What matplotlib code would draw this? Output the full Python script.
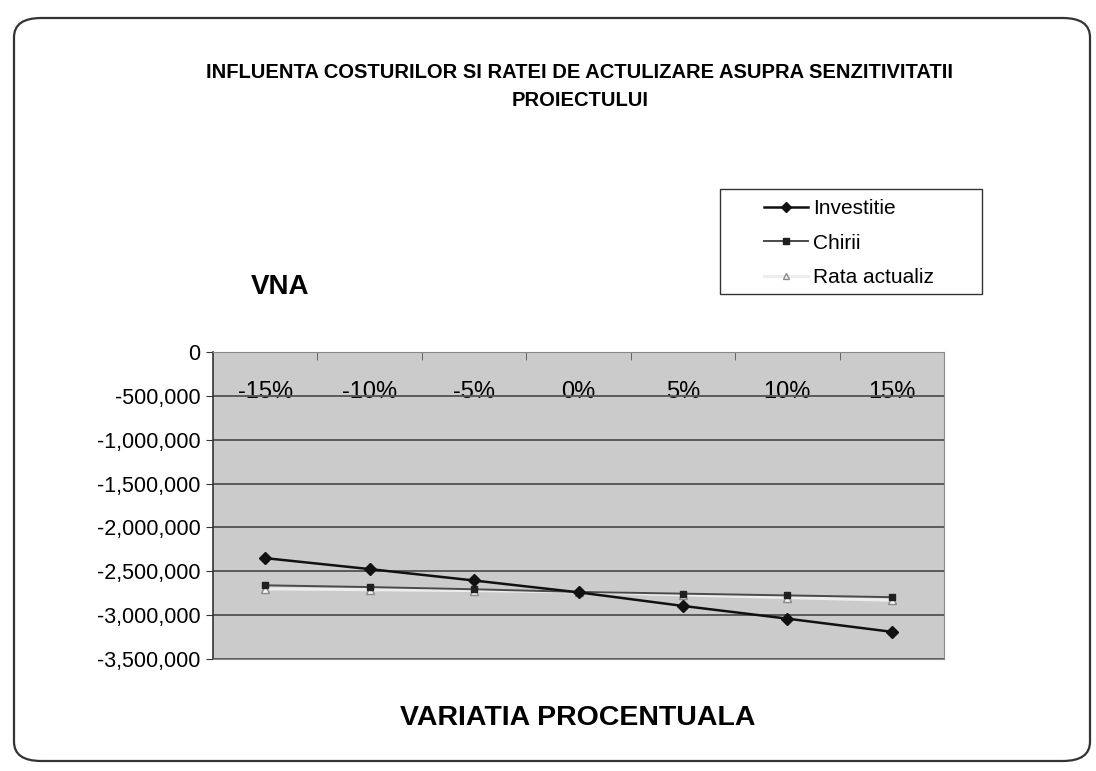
"""
Sensitivity chart: VNA vs percentage variation (Investitie / Chirii / Rata actualiz).
"""
import matplotlib
matplotlib.use('Agg')
import matplotlib.pyplot as plt
from matplotlib.patches import FancyBboxPatch, Rectangle
from matplotlib.ticker import FuncFormatter

plt.rcParams['font.family'] = ['Liberation Sans', 'DejaVu Sans']

# data
categories = ['-15%', '-10%', '-5%', '0%', '5%', '10%', '15%']
investitie = [-2350000, -2475000, -2605000, -2740000, -2895000, -3040000, -3190000]
chirii = [-2660000, -2680000, -2705000, -2735000, -2755000, -2775000, -2795000]
rata_actualiz = [-2700000, -2710000, -2720000, -2735000, -2770000, -2800000, -2830000]
y_ticks = [0, -500000, -1000000, -1500000, -2000000, -2500000, -3000000, -3500000]

W, H = 1096, 771
fig = plt.figure(figsize=(W / 100, H / 100), dpi=100)
fig.patch.set_facecolor('white')

# chart area border (rounded, like the Excel chart frame)
frame = FancyBboxPatch((14 / W, 10 / H), (W - 20) / W, (H - 28) / H,
                       boxstyle='round,pad=0,rounding_size=0.025',
                       transform=fig.transFigure, fill=False,
                       edgecolor='#333333', linewidth=1.6)
fig.patches.append(frame)

ax = fig.add_axes([213 / W, 1 - 659 / H, (944 - 213) / W, (659 - 352) / H])
ax.set_facecolor('#cbcbcb')

x = list(range(len(categories)))
ax.plot(x, rata_actualiz, color='#ededed', linewidth=2.2, marker='^',
        markersize=6, markerfacecolor='#f5f5f5', markeredgecolor='#8a8a8a',
        label='Rata actualiz', zorder=3)
ax.plot(x, chirii, color='#4a4a4a', linewidth=1.4, marker='s',
        markersize=5, markerfacecolor='#202020', markeredgecolor='#202020',
        label='Chirii', zorder=4)
ax.plot(x, investitie, color='#111111', linewidth=1.8, marker='D',
        markersize=6, label='Investitie', zorder=5)

ax.set_xlim(-0.5, len(categories) - 0.5)
ax.set_ylim(-3500000, 0)
ax.set_yticks(y_ticks)
ax.yaxis.set_major_formatter(FuncFormatter(lambda v, p: f'{v:,.0f}'))
ax.tick_params(axis='y', labelsize=15.5, length=5, pad=4, direction='out', color='#333333')
ax.grid(axis='y', color='#5a5a5a', linewidth=1.4)
ax.set_axisbelow(True)

# category axis sits at the top (value 0), labels just below it
ax.xaxis.set_ticks_position('top')
ax.set_xticks(x)
ax.set_xticklabels(categories)
ax.set_xticks([i + 0.5 for i in x[:-1]], minor=True)
ax.tick_params(axis='x', which='major', length=0, labelsize=17, pad=-37,
               labeltop=True, labelbottom=False)
ax.tick_params(axis='x', which='minor', length=6, direction='in', color='#555555')

for side in ['top', 'right', 'bottom']:
    ax.spines[side].set_color('#8a8a8a')
ax.spines['left'].set_color('#333333')
ax.spines['left'].set_linewidth(1.2)

# legend: entries without frame, box drawn separately to match the wide Excel frame
handles, labels = ax.get_legend_handles_labels()
order = [2, 1, 0]
leg = fig.legend([handles[i] for i in order], [labels[i] for i in order],
                 loc='upper left', bbox_to_anchor=(764 / W, 1 - 199 / H),
                 fontsize=15, frameon=False, handlelength=2.1,
                 borderpad=0, labelspacing=0.75, handletextpad=0.25,
                 borderaxespad=0, markerscale=0.8)
fig.patches.append(Rectangle((720 / W, 1 - 294 / H), (982 - 720) / W, (294 - 189) / H,
                             transform=fig.transFigure, fill=False,
                             edgecolor='#333333', linewidth=1.0))

fig.text(580 / W, 1 - 86 / H,
         'INFLUENTA COSTURILOR SI RATEI DE ACTULIZARE ASUPRA SENZITIVITATII\nPROIECTULUI',
         ha='center', va='center', fontsize=14.5, fontweight='bold', linespacing=1.6)
fig.text(280 / W, 1 - 287 / H, 'VNA', ha='center', va='center',
         fontsize=20, fontweight='bold')
fig.text(578 / W, 1 - 718 / H, 'VARIATIA PROCENTUALA', ha='center', va='center',
         fontsize=20.5, fontweight='bold')

plt.savefig('out.png', dpi=100)
plt.close()
